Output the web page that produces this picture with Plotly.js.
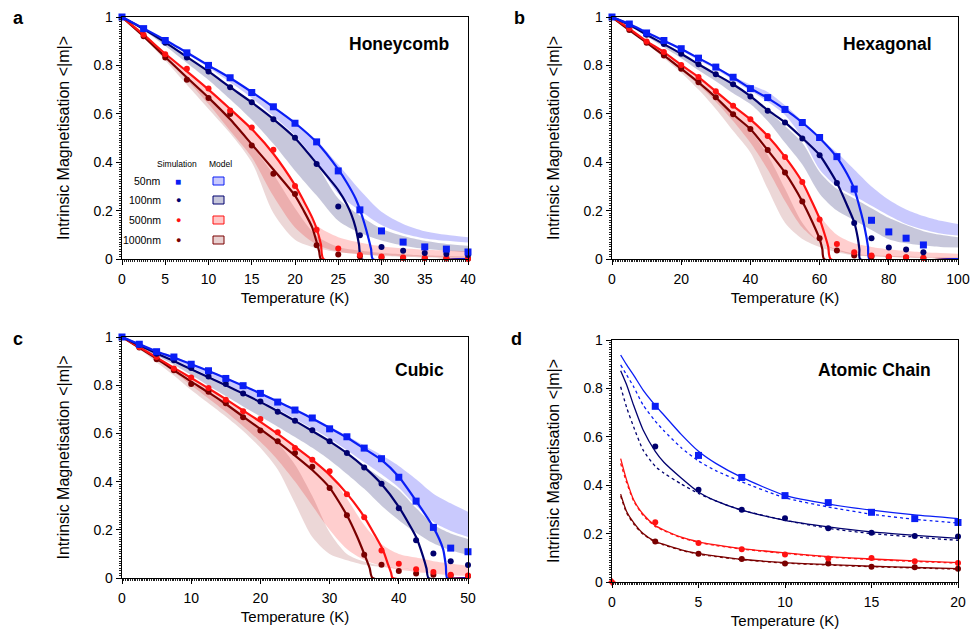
<!DOCTYPE html>
<html><head><meta charset="utf-8">
<script src="https://cdn.plot.ly/plotly-3.0.1.min.js"></script>
<style>html,body{margin:0;padding:0;background:#fff}#chart{width:972px;height:636px}</style>
</head><body><div id="chart"></div><script>
// ---------- Panel a : Honeycomb ----------
const T_A = [0,2.5,5,7.5,10,12.5,15,17.5,20,22.5,25,27.5,30,32.5,35,37.5,40];
const simA50   = [1,0.952,0.903,0.852,0.80,0.749,0.688,0.629,0.561,0.484,0.364,0.203,0.116,0.070,0.050,0.041,0.029];
const simA100  = [1,0.949,0.894,0.833,0.775,0.71,0.648,0.577,0.501,0.393,0.217,0.098,0.05,0.034,0.025,0.021,0.017];
const simA500  = [1,0.927,0.846,0.786,0.705,0.614,0.543,0.451,0.302,0.121,0.043,0.017,0.01,0.006,0.004,0.003,0.001];
const simA1000 = [1,0.92,0.833,0.741,0.665,0.599,0.469,0.352,0.269,0.057,0.019,0.011,0.006,0.004,0.003,0.002,0.001];
const bandA50hi   = [1,0.955,0.905,0.855,0.80,0.75,0.69,0.63,0.565,0.49,0.39,0.285,0.195,0.145,0.115,0.10,0.09];
const bandA50lo   = [1,0.95,0.90,0.85,0.79,0.73,0.665,0.59,0.51,0.40,0.27,0.20,0.14,0.105,0.085,0.075,0.068];
const bandA100hi  = [1,0.95,0.895,0.835,0.775,0.71,0.647,0.575,0.50,0.39,0.25,0.18,0.125,0.095,0.075,0.062,0.055];
const bandA100lo  = [1,0.945,0.88,0.81,0.74,0.66,0.575,0.476,0.365,0.262,0.158,0.108,0.076,0.055,0.042,0.034,0.028];
const bandA500hi  = [1,0.927,0.848,0.775,0.70,0.62,0.54,0.44,0.30,0.14,0.09,0.068,0.052,0.044,0.038,0.035,0.032];
const bandA500lo  = [1,0.92,0.83,0.74,0.64,0.53,0.42,0.26,0.13,0.06,0.03,0.02,0.015,0.011,0.008,0.006,0.005];
const bandA1000hi = [1,0.92,0.835,0.75,0.665,0.585,0.47,0.35,0.21,0.095,0.05,0.035,0.025,0.02,0.015,0.012,0.01];
const bandA1000lo = [1,0.915,0.82,0.72,0.62,0.52,0.40,0.19,0.08,0.045,0.028,0.02,0.012,0.008,0.006,0.005,0.004];
const fitA50T   = [0,2.5,5,7.5,10,12.5,15,17.5,20,22.5,25,26,27,27.5,28,28.5,28.8,29,40];
const fitA50M   = [1,0.953,0.905,0.853,0.80,0.748,0.69,0.628,0.562,0.482,0.37,0.315,0.25,0.205,0.15,0.085,0.04,0,0];
const fitA100T  = [0,2.5,5,7.5,10,12.5,15,17.5,20,22.5,24,25,26,26.5,27,27.4,27.7,40];
const fitA100M  = [1,0.95,0.895,0.835,0.775,0.71,0.647,0.578,0.50,0.395,0.33,0.285,0.225,0.185,0.13,0.06,0,0];
const fitA500T  = [0,2.5,5,7.5,10,12.5,15,17.5,20,21,22,22.5,23,23.3,40];
const fitA500M  = [1,0.927,0.848,0.775,0.70,0.62,0.537,0.435,0.305,0.24,0.17,0.125,0.06,0,0];
const fitA1000T = [0,2.5,5,7.5,10,12.5,15,17.5,20,21,22,22.5,22.8,23,40];
const fitA1000M = [1,0.92,0.835,0.75,0.667,0.577,0.474,0.37,0.262,0.2,0.13,0.07,0.03,0,0];

// ---------- Panel b : Hexagonal ----------
const T_B = [0,5,10,15,20,25,30,35,40,45,50,55,60,65,70,75,80,85,90];
const simB50   = [1,0.971,0.934,0.903,0.869,0.83,0.793,0.751,0.704,0.667,0.618,0.564,0.502,0.423,0.289,0.16,0.112,0.086,0.058];
const simB100  = [1,0.968,0.927,0.888,0.848,0.805,0.763,0.722,0.671,0.613,0.564,0.498,0.429,0.314,0.149,0.086,0.048,0.039,0.028];
const simB500  = [1,0.952,0.899,0.855,0.802,0.752,0.693,0.633,0.577,0.508,0.422,0.318,0.163,0.062,0.028,0.014,0.01,0.007,0.004];
const simB1000 = [1,0.946,0.894,0.841,0.786,0.73,0.668,0.598,0.537,0.45,0.357,0.238,0.086,0.035,0.014,0.01,0.007,0.006,0.004];
const bandT_B = [0,5,10,15,20,25,30,35,40,45,50,55,60,65,70,75,80,85,90,95,100];
const bandB50hi   = [1,0.972,0.937,0.905,0.87,0.832,0.795,0.755,0.72,0.69,0.635,0.57,0.50,0.44,0.37,0.30,0.245,0.205,0.178,0.158,0.145];
const bandB50lo   = [1,0.97,0.932,0.898,0.862,0.822,0.783,0.74,0.695,0.65,0.595,0.50,0.37,0.30,0.26,0.22,0.18,0.145,0.122,0.105,0.097];
const bandB100hi  = [1,0.968,0.927,0.888,0.848,0.805,0.763,0.722,0.671,0.613,0.55,0.48,0.36,0.29,0.25,0.21,0.17,0.14,0.115,0.10,0.09];
const bandB100lo  = [1,0.965,0.92,0.875,0.83,0.78,0.735,0.685,0.64,0.57,0.48,0.39,0.27,0.20,0.16,0.12,0.082,0.065,0.056,0.05,0.048];
const bandB500hi  = [1,0.952,0.90,0.855,0.80,0.75,0.693,0.633,0.577,0.508,0.422,0.318,0.18,0.10,0.065,0.05,0.04,0.033,0.028,0.025,0.022];
const bandB500lo  = [1,0.948,0.893,0.838,0.78,0.72,0.65,0.57,0.48,0.37,0.24,0.13,0.07,0.035,0.018,0.012,0.008,0.006,0.005,0.004,0.003];
const bandB1000hi = [1,0.946,0.894,0.841,0.786,0.73,0.668,0.598,0.53,0.43,0.29,0.15,0.07,0.04,0.022,0.015,0.012,0.01,0.008,0.007,0.006];
const bandB1000lo = [1,0.945,0.89,0.83,0.77,0.70,0.62,0.53,0.44,0.29,0.15,0.083,0.05,0.028,0.015,0.01,0.008,0.006,0.005,0.004,0.003];
const fitB50T   = [0,5,10,15,20,25,30,35,40,45,50,55,60,65,68,70,72,73,74,74.4,100];
const fitB50M   = [1,0.971,0.936,0.902,0.868,0.83,0.792,0.75,0.705,0.665,0.618,0.564,0.50,0.42,0.35,0.29,0.19,0.13,0.05,0,0];
const fitB100T  = [0,5,10,15,20,25,30,35,40,45,50,55,60,65,68,70,71,71.5,71.7,100];
const fitB100M  = [1,0.968,0.927,0.888,0.848,0.805,0.763,0.722,0.673,0.615,0.565,0.50,0.43,0.315,0.22,0.152,0.09,0.04,0,0];
const fitB500T  = [0,5,10,15,20,25,30,35,40,45,50,55,58,60,61.5,62.5,63.2,100];
const fitB500M  = [1,0.952,0.90,0.855,0.802,0.752,0.693,0.633,0.577,0.508,0.422,0.318,0.23,0.166,0.10,0.05,0,0];
const fitB1000T = [0,5,10,15,20,25,30,35,40,45,50,55,58,60,60.8,61.3,100];
const fitB1000M = [1,0.946,0.894,0.841,0.786,0.73,0.668,0.598,0.537,0.45,0.357,0.238,0.15,0.083,0.04,0,0];

// ---------- Panel c : Cubic ----------
const T_C = [0,2.5,5,7.5,10,12.5,15,17.5,20,22.5,25,27.5,30,32.5,35,37.5,40,42.5,45,47.5,50];
const simC50   = [1,0.97,0.939,0.917,0.887,0.86,0.828,0.798,0.766,0.73,0.697,0.664,0.619,0.586,0.539,0.495,0.418,0.319,0.21,0.124,0.109];
const simC100  = [1,0.967,0.93,0.904,0.871,0.836,0.805,0.766,0.732,0.69,0.653,0.613,0.567,0.519,0.458,0.391,0.289,0.157,0.102,0.07,0.054];
const simC500  = [1,0.959,0.917,0.869,0.832,0.788,0.74,0.692,0.66,0.605,0.539,0.491,0.443,0.347,0.252,0.114,0.059,0.036,0.025,0.014,0.01];
const simC1000 = [1,0.956,0.908,0.862,0.805,0.773,0.725,0.667,0.612,0.567,0.519,0.462,0.373,0.26,0.096,0.055,0.029,0.019,0.014,0.01,0.007];
const bandC50hi   = [1,0.972,0.942,0.92,0.89,0.862,0.832,0.80,0.77,0.735,0.70,0.665,0.63,0.59,0.55,0.51,0.465,0.41,0.35,0.31,0.275];
const bandC50lo   = [1,0.968,0.935,0.905,0.872,0.84,0.805,0.77,0.735,0.70,0.66,0.62,0.578,0.53,0.48,0.43,0.375,0.30,0.232,0.195,0.17];
const bandC100hi  = [1,0.966,0.93,0.90,0.866,0.832,0.798,0.762,0.728,0.688,0.65,0.608,0.565,0.515,0.465,0.415,0.365,0.29,0.222,0.185,0.162];
const bandC100lo  = [1,0.962,0.922,0.885,0.842,0.798,0.755,0.712,0.67,0.628,0.585,0.54,0.49,0.432,0.37,0.30,0.24,0.188,0.144,0.115,0.096];
const bandC500hi  = [1,0.958,0.915,0.872,0.83,0.787,0.742,0.695,0.648,0.598,0.545,0.49,0.428,0.33,0.22,0.14,0.10,0.085,0.07,0.06,0.05];
const bandC500lo  = [1,0.955,0.905,0.855,0.80,0.745,0.69,0.63,0.565,0.49,0.40,0.30,0.20,0.12,0.075,0.05,0.035,0.025,0.018,0.012,0.008];
const bandC1000hi = [1,0.955,0.91,0.862,0.815,0.77,0.722,0.67,0.615,0.56,0.47,0.34,0.19,0.10,0.068,0.05,0.04,0.035,0.03,0.027,0.025];
const bandC1000lo = [1,0.95,0.895,0.84,0.78,0.725,0.67,0.61,0.54,0.45,0.31,0.17,0.10,0.074,0.055,0.046,0.04,0.035,0.03,0.027,0.025];
const fitC50T   = [0,2.5,5,7.5,10,12.5,15,17.5,20,22.5,25,27.5,30,32.5,35,37.5,40,42.5,45,46.4,46.8,47,50];
const fitC50M   = [1,0.97,0.94,0.915,0.887,0.859,0.829,0.798,0.766,0.732,0.698,0.662,0.623,0.583,0.537,0.49,0.42,0.32,0.21,0.12,0.05,0,0];
const fitC100T  = [0,2.5,5,7.5,10,12.5,15,17.5,20,22.5,25,27.5,30,32.5,35,37.5,40,42.5,43.5,44,44.3,50];
const fitC100M  = [1,0.966,0.932,0.90,0.866,0.833,0.80,0.765,0.73,0.692,0.652,0.61,0.567,0.518,0.46,0.39,0.295,0.17,0.09,0.04,0,0];
const fitC500T  = [0,2.5,5,7.5,10,12.5,15,17.5,20,22.5,25,27.5,30,32.5,35,36.5,37.7,38.4,38.9,39.1,50];
const fitC500M  = [1,0.958,0.915,0.872,0.83,0.787,0.742,0.695,0.648,0.598,0.545,0.49,0.428,0.35,0.254,0.18,0.117,0.06,0.02,0,0];
const fitC1000T = [0,2.5,5,7.5,10,12.5,15,17.5,20,22.5,25,27.5,30,32.5,34,35,35.8,36.2,50];
const fitC1000M = [1,0.955,0.91,0.862,0.815,0.77,0.722,0.67,0.618,0.565,0.508,0.448,0.375,0.26,0.17,0.1,0.04,0,0];

// ---------- Panel d : Atomic Chain ----------
const T_D = [2.5,5,7.5,10,12.5,15,17.5,20];
const simD50   = [0.726,0.523,0.432,0.357,0.328,0.288,0.262,0.246];
const simD100  = [0.56,0.381,0.299,0.263,0.222,0.204,0.19,0.188];
const simD500  = [0.247,0.161,0.135,0.114,0.097,0.099,0.086,0.079];
const simD1000 = [0.167,0.117,0.095,0.076,0.076,0.063,0.061,0.055];
const originT = [0];
const originM = [0];
const fitD_T    = [0.5,0.85,1.25,1.8,2.5,3,4,5,6,7.5,10,12.5,15,17.5,20];
const fitD50    = [0.938,0.897,0.855,0.793,0.73,0.69,0.61,0.54,0.49,0.432,0.358,0.322,0.297,0.277,0.262];
const fitD50m   = [0.897,0.855,0.807,0.731,0.665,0.625,0.555,0.50,0.46,0.414,0.348,0.31,0.28,0.259,0.244];
const fitD100   = [0.873,0.814,0.73,0.628,0.54,0.495,0.43,0.372,0.335,0.297,0.255,0.228,0.207,0.193,0.18];
const fitD100m  = [0.807,0.72,0.641,0.545,0.478,0.45,0.405,0.366,0.335,0.297,0.255,0.222,0.20,0.186,0.172];
const fitD500   = [0.51,0.42,0.34,0.28,0.233,0.215,0.185,0.166,0.153,0.138,0.12,0.105,0.095,0.087,0.08];
const fitD500m  = [0.49,0.41,0.335,0.275,0.23,0.212,0.183,0.164,0.151,0.136,0.118,0.103,0.093,0.085,0.078];
const fitD1000  = [0.363,0.29,0.245,0.20,0.167,0.155,0.133,0.117,0.107,0.094,0.08,0.072,0.065,0.06,0.055];
const fitD1000m = [0.355,0.285,0.24,0.197,0.165,0.153,0.131,0.115,0.105,0.092,0.078,0.07,0.063,0.058,0.053];

const legendSizes = ['50nm','100nm','500nm','1000nm'];
const xTickVals = {a:[0,5,10,15,20,25,30,35,40], b:[0,20,40,60,80,100], c:[0,10,20,30,40,50], d:[0,5,10,15,20]};

// ---------- styling ----------
const C50 = '#0a1ef5', C100 = '#00006e', C500 = '#ff1212', C1000 = '#7a0000';
const F50 = 'rgba(0,0,245,0.21)', F100 = 'rgba(0,0,90,0.22)', F500 = 'rgba(255,30,30,0.22)', F1000 = 'rgba(140,20,20,0.17)';
const FONT = 'Liberation Sans, Arial, Helvetica, sans-serif';

const traces = [];
function band(ax, T, lo, hi, fc){
  traces.push({type:'scatter',mode:'lines',x:T,y:lo,xaxis:'x'+ax,yaxis:'y'+ax,line:{width:0,shape:'spline',smoothing:0.8},hoverinfo:'skip'});
  traces.push({type:'scatter',mode:'lines',x:T,y:hi,xaxis:'x'+ax,yaxis:'y'+ax,fill:'tonexty',fillcolor:fc,line:{width:0,shape:'spline',smoothing:0.8},hoverinfo:'skip'});
}
function fit(ax, T, M, c, w, dash){
  traces.push({type:'scatter',mode:'lines',x:T,y:M,xaxis:'x'+ax,yaxis:'y'+ax,line:{color:c,width:w,shape:'spline',smoothing:0.6,dash:dash||'solid'},hoverinfo:'skip'});
}
function sim(ax, T, M, c, sym, sz){
  traces.push({type:'scatter',mode:'markers',x:T,y:M,xaxis:'x'+ax,yaxis:'y'+ax,marker:{color:c,symbol:sym,size:sz,line:{width:0}},cliponaxis:false,hoverinfo:'skip'});
}

// panel a (axis '' -> x/y)
band('', T_A, bandA50lo, bandA50hi, F50);
band('', T_A, bandA100lo, bandA100hi, F100);
band('', T_A, bandA500lo, bandA500hi, F500);
band('', T_A, bandA1000lo, bandA1000hi, F1000);
fit('', fitA1000T, fitA1000M, C1000, 2.2); fit('', fitA500T, fitA500M, C500, 2.2);
fit('', fitA100T, fitA100M, C100, 2.2); fit('', fitA50T, fitA50M, C50, 2.2);
sim('', T_A, simA1000, C1000, 'circle', 6); sim('', T_A, simA500, C500, 'circle', 6);
sim('', T_A, simA100, C100, 'circle', 6); sim('', T_A, simA50, C50, 'square', 7);
// panel b
band('2', bandT_B, bandB50lo, bandB50hi, F50);
band('2', bandT_B, bandB100lo, bandB100hi, F100);
band('2', bandT_B, bandB500lo, bandB500hi, F500);
band('2', bandT_B, bandB1000lo, bandB1000hi, F1000);
fit('2', fitB1000T, fitB1000M, C1000, 2.2); fit('2', fitB500T, fitB500M, C500, 2.2);
fit('2', fitB100T, fitB100M, C100, 2.2); fit('2', fitB50T, fitB50M, C50, 2.2);
sim('2', T_B, simB1000, C1000, 'circle', 6); sim('2', T_B, simB500, C500, 'circle', 6);
sim('2', T_B, simB100, C100, 'circle', 6); sim('2', T_B, simB50, C50, 'square', 7);
// panel c
band('3', T_C, bandC50lo, bandC50hi, F50);
band('3', T_C, bandC100lo, bandC100hi, F100);
band('3', T_C, bandC500lo, bandC500hi, F500);
band('3', T_C, bandC1000lo, bandC1000hi, F1000);
fit('3', fitC1000T, fitC1000M, C1000, 2.2); fit('3', fitC500T, fitC500M, C500, 2.2);
fit('3', fitC100T, fitC100M, C100, 2.2); fit('3', fitC50T, fitC50M, C50, 2.2);
sim('3', T_C, simC1000, C1000, 'circle', 6); sim('3', T_C, simC500, C500, 'circle', 6);
sim('3', T_C, simC100, C100, 'circle', 6); sim('3', T_C, simC50, C50, 'square', 7);
// panel d
fit('4', fitD_T, fitD1000m, C1000, 1.3, '3px,3px'); fit('4', fitD_T, fitD500m, C500, 1.3, '3px,3px');
fit('4', fitD_T, fitD100m, C100, 1.3, '3px,3px'); fit('4', fitD_T, fitD50m, C50, 1.3, '3px,3px');
fit('4', fitD_T, fitD1000, C1000, 1.3); fit('4', fitD_T, fitD500, C500, 1.3);
fit('4', fitD_T, fitD100, C100, 1.3); fit('4', fitD_T, fitD50, C50, 1.3);
sim('4', T_D, simD1000, C1000, 'circle', 6); sim('4', T_D, simD500, C500, 'circle', 6);
sim('4', T_D, simD100, C100, 'circle', 6); sim('4', T_D, simD50, C50, 'square', 7);
sim('4', originT, originM, C500, 'diamond', 6);

const W = 972, H = 636;
const X = p => p / W, Y = p => 1 - p / H;

function xax(domain, range, ticks, minorD, anchor){
  return {domain:domain, range:range, tickvals:ticks, ticks:'outside', ticklen:5, tickwidth:1, tickcolor:'#000',
    showline:true, linecolor:'#000', linewidth:1.3, mirror:true, showgrid:false, zeroline:false,
    tickfont:{size:14, color:'#000', family:FONT}, ticklabelstandoff:2,
    minor:{ticks:'outside', ticklen:2, dtick:minorD, tick0:0, tickcolor:'#222', tickwidth:1, showgrid:false},
    title:{text:'Temperature (K)', font:{size:15, color:'#000', family:FONT}, standoff:6},
    anchor:anchor, fixedrange:true, automargin:false};
}
function yax(domain, anchor){
  return {domain:domain, range:[0,1], dtick:0.2, tick0:0, ticks:'outside', ticklen:5, tickwidth:1, tickcolor:'#000',
    showline:true, linecolor:'#000', linewidth:1.3, mirror:true, showgrid:false, zeroline:false,
    tickfont:{size:14, color:'#000', family:FONT},
    minor:{ticks:'outside', ticklen:2, dtick:0.01, tick0:0, tickcolor:'#222', tickwidth:1, showgrid:false},
    title:{text:'Intrinsic Magnetisation <|m|>', font:{size:16, color:'#000', family:FONT}, standoff:19},
    anchor:anchor, fixedrange:true, automargin:false};
}

const annotations = [];
function ann(text, px, py, size, bold, xanchor, color){
  annotations.push({text: bold ? '<b>'+text+'</b>' : text, x:X(px), y:Y(py), xref:'paper', yref:'paper',
    xanchor:xanchor||'center', yanchor:'middle', showarrow:false, font:{size:size, color:color||'#000', family:FONT}});
}
ann('a', 18, 18, 18, true); ann('b', 519, 18, 18, true); ann('c', 18, 339, 18, true); ann('d', 516, 339, 18, true);
ann('Honeycomb', 451, 44, 17.5, true, 'right');
ann('Hexagonal', 934, 44, 17.5, true, 'right');
ann('Cubic', 446, 370, 17.5, true, 'right');
ann('Atomic Chain', 933, 370, 17.5, true, 'right');
// legend in panel a
ann('Simulation', 177, 164, 8.5, false); ann('Model', 220, 164, 8.5, false);
const legRowY = [181, 200, 220, 240];
const legCol = [C50, C100, C500, C1000];
const legFill = ['rgba(0,0,245,0.21)','rgba(0,0,90,0.22)','rgba(255,30,30,0.25)','rgba(140,20,20,0.2)'];
const shapes = [];
legendSizes.forEach((s,i)=>{
  ann(s, 163, legRowY[i], 10.5, false, 'right');
  ann(i===0 ? '■' : '●', 178, legRowY[i], i===0 ? 10 : 9, false, 'center', legCol[i]);
  shapes.push({type:'rect', xref:'paper', yref:'paper', x0:X(213), x1:X(224), y0:Y(legRowY[i]+4), y1:Y(legRowY[i]-4),
    fillcolor:legFill[i], line:{color:legCol[i], width:1}});
});

const layout = {
  width:W, height:H, margin:{l:0,r:0,t:0,b:0}, paper_bgcolor:'#fff', plot_bgcolor:'rgba(0,0,0,0)',
  showlegend:false, hovermode:false, font:{family:FONT, color:'#000'},
  xaxis:  xax([X(122),X(468)], [0,40], xTickVals.a, 0.25, 'y'),
  yaxis:  yax([Y(259),Y(17)], 'x'),
  xaxis2: xax([X(612),X(958)], [0,100], xTickVals.b, 0.5, 'y2'),
  yaxis2: yax([Y(259),Y(17)], 'x2'),
  xaxis3: xax([X(122),X(468)], [0,50], xTickVals.c, 0.25, 'y3'),
  yaxis3: yax([Y(578),Y(337)], 'x3'),
  xaxis4: xax([X(612),X(958)], [0,20], xTickVals.d, 0.1, 'y4'),
  yaxis4: yax([Y(582),Y(340)], 'x4'),
  annotations: annotations, shapes: shapes
};
Plotly.newPlot('chart', traces, layout, {staticPlot:true, displayModeBar:false});
</script></body></html>
